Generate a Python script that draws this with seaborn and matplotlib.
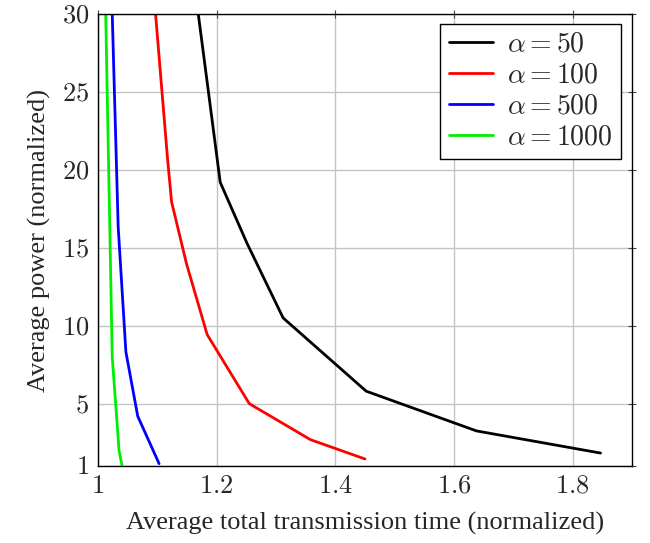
import pandas as pd
import matplotlib
matplotlib.use("Agg")
import matplotlib.pyplot as plt
import seaborn as sns

# values
x_a50 = [1.169, 1.206, 1.251, 1.312, 1.452, 1.638, 1.847]
y_a50 = [30.0, 19.2, 15.3, 10.5, 5.8, 3.25, 1.83]

x_a100 = [1.097, 1.117, 1.124, 1.149, 1.184, 1.255, 1.358, 1.450]
y_a100 = [30.0, 20.8, 17.95, 14.0, 9.43, 5.0, 2.69, 1.45]

x_a500 = [1.024, 1.034, 1.047, 1.067, 1.103]
y_a500 = [30.0, 16.35, 8.32, 4.19, 1.15]

x_a1000 = [1.013, 1.024, 1.0355, 1.0406]
y_a1000 = [30.0, 8.0, 2.0, 1.0]

labels = [r'$\alpha = 50$', r'$\alpha = 100$', r'$\alpha = 500$', r'$\alpha = 1000$']
colors = ['black', 'red', 'blue', '#00ee00']

x_ticks = [1, 1.2, 1.4, 1.6, 1.8]
y_ticks = [1, 5, 10, 15, 20, 25, 30]

# build a long table for seaborn
frames = []
for xs, ys, lab in zip([x_a50, x_a100, x_a500, x_a1000],
                       [y_a50, y_a100, y_a500, y_a1000], labels):
    frames.append(pd.DataFrame({'x': xs, 'y': ys, 'alpha': lab}))
df = pd.concat(frames, ignore_index=True)

sns.set_style('white')
plt.rcParams['font.family'] = ['Liberation Serif', 'DejaVu Serif']
plt.rcParams['mathtext.fontset'] = 'cm'

fig = plt.figure(figsize=(6.5, 5.43), dpi=100)
ax = fig.add_axes([98 / 650, 1 - 466 / 543, 534 / 650, 452 / 543])

sns.lineplot(data=df, x='x', y='y', hue='alpha', palette=colors,
             sort=False, estimator=None, linewidth=2.0, ax=ax)

ax.set_xlim(1, 1.9)
ax.set_ylim(1, 30)
ax.set_xticks(x_ticks)
ax.set_yticks(y_ticks)
ax.set_xticklabels(['$%g$' % t for t in x_ticks])
ax.set_yticklabels(['$%g$' % t for t in y_ticks])
ax.tick_params(direction='inout', length=6, width=0.8, labelsize=19,
               top=True, right=True, color='#444444')
ax.tick_params(axis='x', pad=4)
ax.grid(True, color='#c4c4c4', linewidth=1.0)
for s in ax.spines.values():
    s.set_color('black')
    s.set_linewidth(1.0)

ax.set_xlabel('Average total transmission time (normalized)', fontsize=19, labelpad=10)
ax.set_ylabel('Average power (normalized)', fontsize=19, labelpad=8)

leg = ax.legend(loc='upper right', bbox_to_anchor=(0.979, 0.978), borderaxespad=0,
                fontsize=20, frameon=True, fancybox=False, handlelength=1.6,
                labelspacing=0.2, borderpad=0.3, handletextpad=0.5)
leg.get_frame().set_edgecolor('black')
leg.get_frame().set_linewidth(1.0)
leg.get_frame().set_alpha(1)

plt.savefig('out.png', dpi=100)
